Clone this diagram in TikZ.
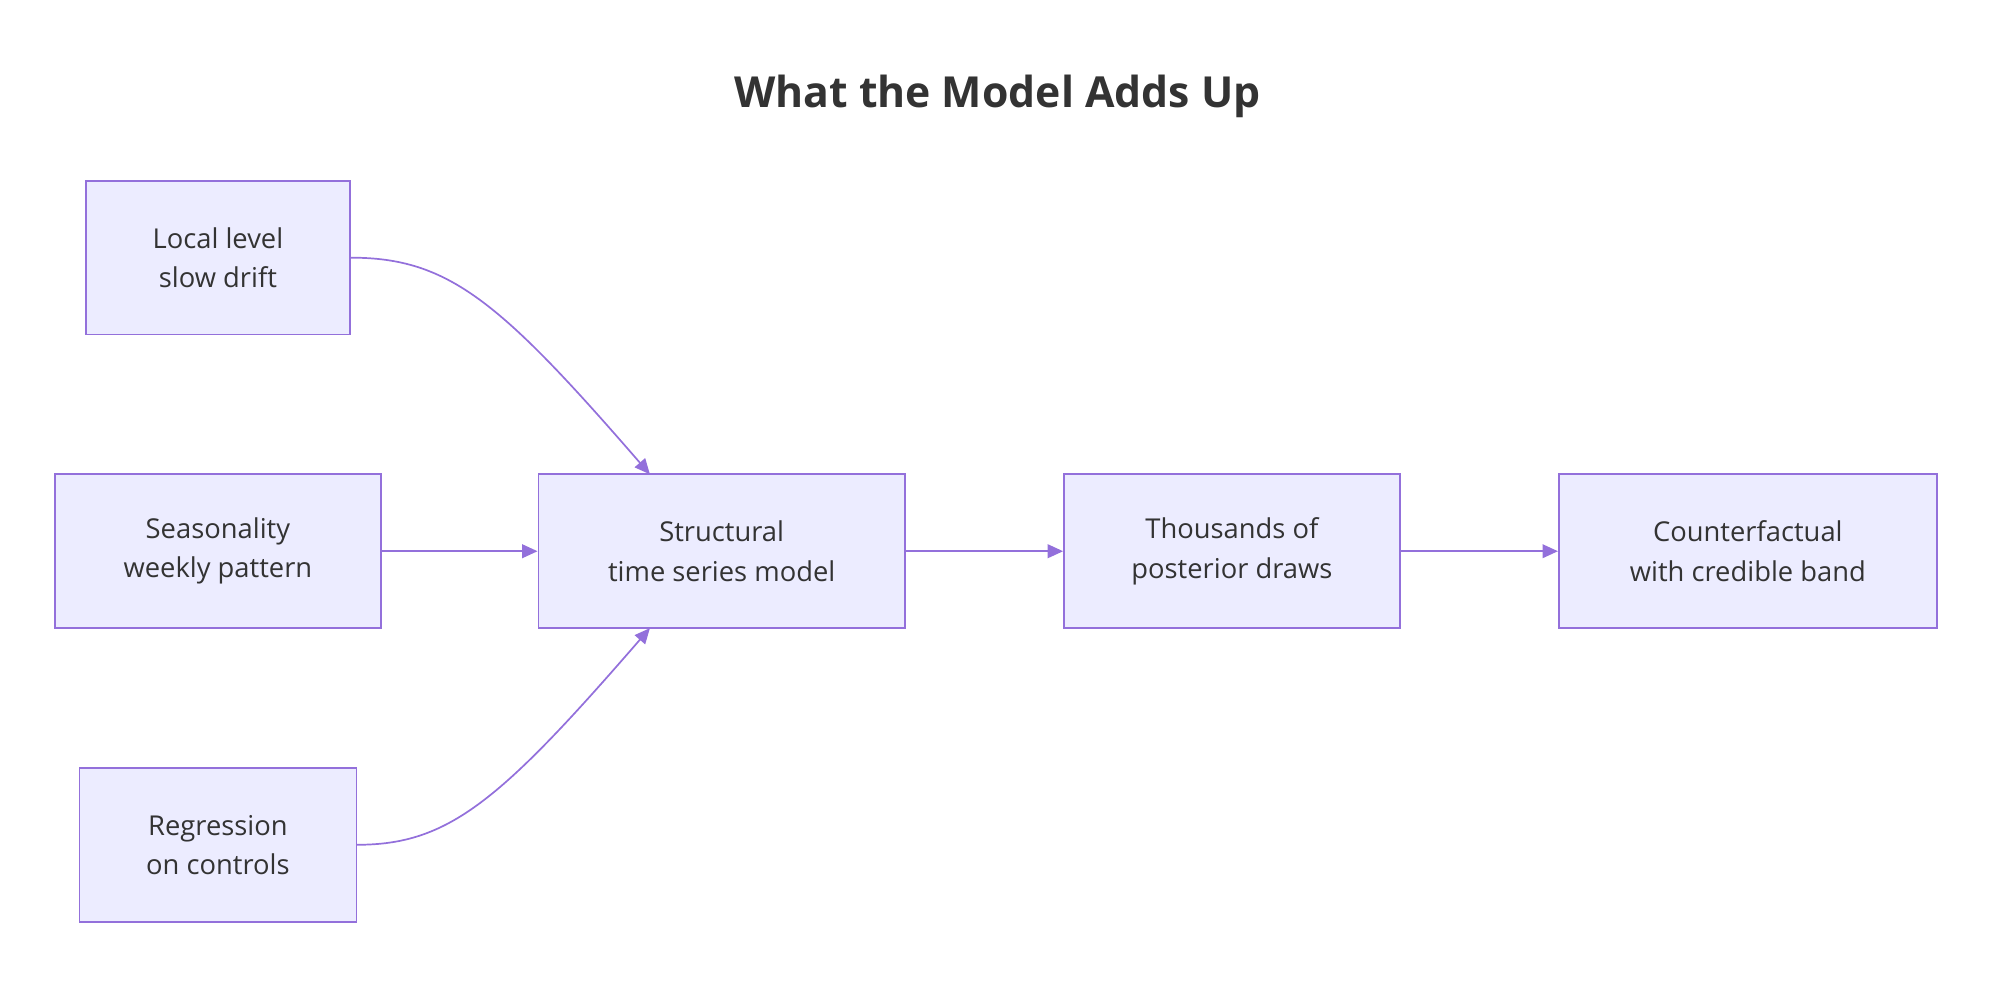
\documentclass[tikz,border=0pt]{standalone}
\usepackage{fontspec}
\setmainfont{Open Sans}
\usetikzlibrary{arrows.meta}
\definecolor{nfill}{HTML}{ECECFF}
\definecolor{nline}{HTML}{9370DB}
\definecolor{ntext}{HTML}{333333}
\begin{document}
\begin{tikzpicture}[x=0.75pt,y=-0.75pt,
  box/.style={draw=nline,fill=nfill,line width=1pt,text=ntext,align=center,font=\fontsize{16}{23}\selectfont,inner sep=0pt},
  edge/.style={draw=nline,line width=1pt,-{Triangle[length=9pt,width=8pt]}}]
\useasboundingbox (0,0) rectangle (1568,769);
\node[text=ntext,font=\fontsize{25}{30}\selectfont\bfseries] (title) at (778,75) {What the Model Adds Up};
\node[box,minimum width=206pt*0.75,minimum height=120pt*0.75] (A) at (170,201) {Local level\\slow drift};
\node[box,minimum width=254pt*0.75,minimum height=120pt*0.75] (B) at (170,430) {Seasonality\\weekly pattern};
\node[box,minimum width=216pt*0.75,minimum height=120pt*0.75] (C) at (170,659) {Regression\\on controls};
\node[box,minimum width=286pt*0.75,minimum height=120pt*0.75] (S) at (563,430) {Structural\\time series model};
\node[box,minimum width=262pt*0.75,minimum height=120pt*0.75] (T) at (961,430) {Thousands of\\posterior draws};
\node[box,minimum width=295pt*0.75,minimum height=120pt*0.75] (U) at (1363.5,430) {Counterfactual\\with credible band};
\coordinate (s1) at (507,370);
\coordinate (s2) at (507,490);
\draw[edge] (A.east) .. controls (350,201) and (390,235) .. (s1);
\draw[edge] (C.east) .. controls (350,659) and (390,625) .. (s2);
\draw[edge] (B) -- (S);
\draw[edge] (S) -- (T);
\draw[edge] (T) -- (U);
\end{tikzpicture}
\end{document}
